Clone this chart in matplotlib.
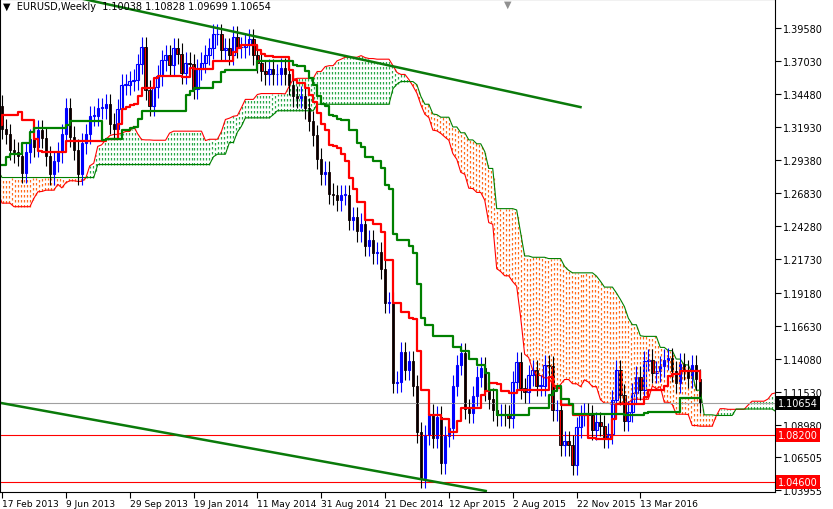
import numpy as np
import pandas as pd
import matplotlib
matplotlib.use("Agg")
import matplotlib.pyplot as plt

# weekly closes EURUSD, Feb 2012 .. Feb 2013 (off screen, used for the indicator)
pre_closes = [1.322, 1.325, 1.345, 1.320, 1.319, 1.312, 1.332, 1.318, 1.328, 1.334,
              1.321, 1.311, 1.310, 1.322, 1.323, 1.300, 1.279, 1.265, 1.253, 1.243,
              1.243, 1.258, 1.265, 1.241, 1.266, 1.227, 1.216, 1.228, 1.232, 1.237,
              1.232, 1.252, 1.250, 1.266, 1.292, 1.312, 1.292, 1.286, 1.295, 1.300,
              1.291, 1.272, 1.277, 1.297, 1.299, 1.310, 1.293, 1.316, 1.335, 1.339,
              1.365, 1.336]

# weekly closes from 17 Feb 2013
closes = [1.318, 1.314, 1.302, 1.300, 1.297, 1.284, 1.300, 1.310, 1.304, 1.317,
          1.311, 1.297, 1.283, 1.293, 1.300, 1.314, 1.334, 1.312, 1.302, 1.283,
          1.307, 1.314, 1.328, 1.328, 1.334, 1.334, 1.337, 1.322, 1.318, 1.333,
          1.352, 1.352, 1.355, 1.356, 1.368, 1.381, 1.348, 1.336, 1.350, 1.359,
          1.371, 1.375, 1.367, 1.380, 1.376, 1.361, 1.369, 1.368, 1.349, 1.364,
          1.369, 1.375, 1.380, 1.391, 1.391, 1.379, 1.380, 1.375, 1.389, 1.381,
          1.381, 1.383, 1.387, 1.375, 1.369, 1.363, 1.360, 1.364, 1.360, 1.360,
          1.365, 1.360, 1.352, 1.343, 1.342, 1.343, 1.334, 1.324, 1.313, 1.295,
          1.283, 1.285, 1.268, 1.267, 1.263, 1.267, 1.267, 1.248, 1.250, 1.239,
          1.245, 1.228, 1.232, 1.222, 1.223, 1.210, 1.184, 1.184, 1.122, 1.123,
          1.146, 1.132, 1.139, 1.120, 1.084, 1.049, 1.082, 1.098, 1.080, 1.096,
          1.060, 1.081, 1.087, 1.120, 1.136, 1.145, 1.102, 1.099, 1.112, 1.127,
          1.134, 1.116, 1.110, 1.101, 1.097, 1.098, 1.097, 1.095, 1.123, 1.138,
          1.118, 1.115, 1.128, 1.132, 1.120, 1.120, 1.136, 1.135, 1.101, 1.101,
          1.074, 1.077, 1.074, 1.059, 1.088, 1.097, 1.099, 1.097, 1.086, 1.092,
          1.089, 1.080, 1.083, 1.109, 1.132, 1.113, 1.093, 1.100, 1.114, 1.127,
          1.117, 1.139, 1.140, 1.130, 1.131, 1.135, 1.140, 1.141, 1.131, 1.122,
          1.137, 1.132, 1.126, 1.136, 1.125, 1.10654]

wick = 0.008
date_labels = ["17 Feb 2013", "9 Jun 2013", "29 Sep 2013", "19 Jan 2014", "11 May 2014",
               "31 Aug 2014", "21 Dec 2014", "12 Apr 2015", "2 Aug 2015", "22 Nov 2015",
               "13 Mar 2016"]
price_ticks = [1.39580, 1.37030, 1.34480, 1.31930, 1.29380, 1.26830, 1.24280, 1.21730,
               1.19180, 1.16630, 1.14080, 1.11530, 1.08980, 1.06505, 1.03955]
levels = [1.08200, 1.04600]
last_price = 1.10654
upper_trend = [(20.5, 1.4181), (145.0, 1.3348)]
lower_trend = [(0.0, 1.1065), (121.25, 1.0388)]

allc = np.array(pre_closes + closes)
n_pre = len(pre_closes)
opens = np.concatenate([[allc[0]], allc[:-1]])
highs = np.maximum(opens, allc) + wick
lows = np.minimum(opens, allc) - wick
idx = np.arange(len(allc)) - n_pre
hs, ls = pd.Series(highs), pd.Series(lows)

def mid(p):
    return ((hs.rolling(p, min_periods=1).max() + ls.rolling(p, min_periods=1).min()) / 2).values

tenkan = mid(9)
kijun = mid(26)
span_a = (tenkan + kijun) / 2
span_b = mid(52)
span_x = idx + 26

fig = plt.figure(figsize=(8.33, 5.10), dpi=100)
ax = fig.add_axes([0, 17 / 510, 775 / 833, 493 / 510])
ax.set_xlim(-0.5, 193.75)
ax.set_ylim(1.3958 - 464 / 1296.8, 1.3958 + 29 / 1296.8)

# cloud, drawn as dashed vertical strokes
xs = np.arange(-0.5, span_x[-1], 0.75)
a_i = np.interp(xs, span_x, span_a)
b_i = np.interp(xs, span_x, span_b)
bear = b_i > a_i
ax.vlines(xs[bear], a_i[bear], b_i[bear], colors="#ff6a1a", linestyles=(0, (2, 2)), lw=0.9)
ax.vlines(xs[~bear], b_i[~bear], a_i[~bear], colors="#2aa84a", linestyles=(0, (2, 2)), lw=0.9)
ax.plot(span_x, span_a, color="red", lw=0.8)
ax.plot(span_x, span_b, color="green", lw=0.8)

ax.axhline(last_price, color="#a0a0a0", lw=0.8)
for lv in levels:
    ax.axhline(lv, color="red", lw=0.8)

vis = idx >= 0
for x, o, h, l, c in zip(idx[vis], opens[vis], highs[vis], lows[vis], allc[vis]):
    if c >= o:
        ax.vlines(x, l, h, color="blue", lw=0.8)
        ax.bar(x, max(c - o, 0.0005), bottom=o, width=0.6, color="white", edgecolor="blue", lw=0.8)
    else:
        ax.vlines(x, l, h, color="black", lw=0.8)
        ax.bar(x, o - c, bottom=c, width=0.6, color="red", edgecolor="black", lw=0.6)

ax.step(idx, tenkan, where="post", color="red", lw=1.6)
ax.step(idx, kijun, where="post", color="green", lw=1.6)

for tl in (upper_trend, lower_trend):
    ax.plot([tl[0][0], tl[1][0]], [tl[0][1], tl[1][1]], color="#0a7a0a", lw=1.8)

ax.yaxis.tick_right()
ax.set_yticks(price_ticks)
ax.set_yticklabels([f"{t:.5f}" for t in price_ticks], fontsize=7)
ax.tick_params(axis="y", length=4, pad=2)
ax.set_xticks([16 * i for i in range(len(date_labels))])
ax.set_xticklabels(date_labels, fontsize=6.6, ha="left")
ax.tick_params(axis="x", length=4, pad=1)

def tag(val, face, fg):
    ax.text(1.004, val, f"{val:.5f}", transform=ax.get_yaxis_transform(), fontsize=7,
            va="center", ha="left", color=fg,
            bbox=dict(boxstyle="square,pad=0.2", fc=face, ec="none"))

tag(last_price, "black", "white")
tag(levels[0], "red", "white")
tag(levels[1], "red", "white")

ax.text(0.004, 0.995, "\u25bc  EURUSD,Weekly  1.10038 1.10828 1.09699 1.10654",
        transform=ax.transAxes, fontsize=7, va="top", ha="left")
ax.text(0.655, 1.0, "\u25bc", transform=ax.transAxes, fontsize=7, va="top", ha="center", color="#909090")

fig.savefig("out.png", dpi=100)
